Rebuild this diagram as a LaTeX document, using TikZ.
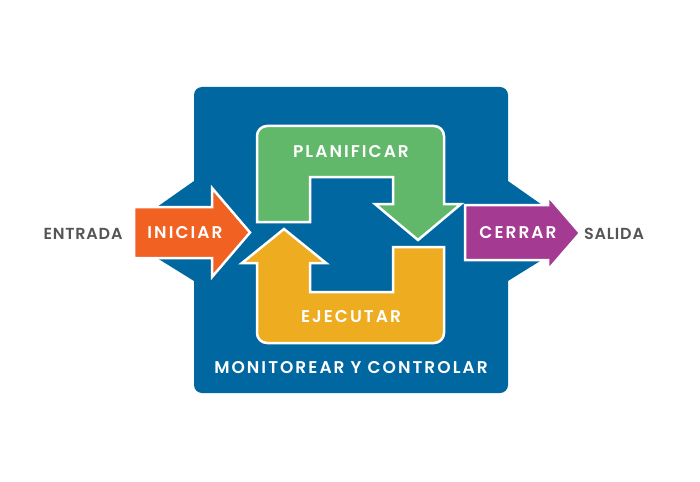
\documentclass[tikz,border=0pt]{standalone}
\usepackage{fontspec}
\setmainfont{Poppins}[BoldFont={Poppins SemiBold}]
\usepackage{tikz}
\usetikzlibrary{positioning}
\definecolor{pmblue}{RGB}{0,103,160}
\definecolor{pmgreen}{RGB}{98,184,106}
\definecolor{pmorange}{RGB}{241,97,34}
\definecolor{pmyellow}{RGB}{238,172,33}
\definecolor{pmpurple}{RGB}{165,58,146}
\definecolor{pmgray}{RGB}{85,85,85}
\tikzstyle{phase} = [draw=white, line width=2.5pt, line join=miter]
\tikzstyle{phasetext} = [text=white, inner sep=0pt,
    font=\fontsize{17}{19}\selectfont\bfseries\addfontfeatures{LetterSpace=12}]
\tikzstyle{sidetext} = [text=pmgray, inner sep=0pt,
    font=\fontsize{16}{18}\selectfont\bfseries\addfontfeatures{LetterSpace=5}]

\begin{document}
\begin{tikzpicture}[x=1pt, y=-1pt]
			\useasboundingbox (0,0) rectangle (700,481);
			% blue frame with wings
			\fill [pmblue] (194,181) -- (157,207) -- (157,258) -- (194,281) -- cycle;
			\fill [pmblue] (508,181) -- (545,207) -- (545,258) -- (508,281) -- cycle;
			\fill [pmblue, rounded corners=8pt] (194,87) rectangle (508,393);

			% iniciar / cerrar
			\path [phase, fill=pmorange] (134,207) -- (212,207) -- (212,188) -- (250,232.5)
				-- (212,277) -- (212,258) -- (134,258) -- cycle;
			\path [phase, fill=pmpurple] (465,205) -- (548,205) -- (548,196) -- (580,233)
				-- (548,270) -- (548,260) -- (465,260) -- cycle;

			% planificar / ejecutar
			\path [phase, fill=pmgreen] (257,222) -- (257,136) arc (180:270:10) -- (434,126)
				arc (270:360:10) -- (444,204) -- (461,204) -- (418,240) -- (375,204) -- (393,204)
				-- (393,177) -- (310,177) -- (310,222) -- cycle;
			\path [phase, fill=pmyellow] (444,247) -- (444,333) arc (0:90:10) -- (267,343)
				arc (90:180:10) -- (257,263) -- (242,263) -- (284,229) -- (326,263) -- (310,263)
				-- (310,292) -- (393,292) -- (393,247) -- cycle;

			% texts
			\node [phasetext] (planificar) at (351,152) {PLANIFICAR};
			\node [phasetext] (ejecutar) at (351,317) {EJECUTAR};
			\node [phasetext] (monitorear) at (351,368) {MONITOREAR Y CONTROLAR};
			\node [phasetext] (iniciar) at (185,233) {INICIAR};
			\node [phasetext] (cerrar) at (518,233) {CERRAR};
			\node [sidetext] (entrada) at (83,234) {ENTRADA};
			\node [sidetext] (salida) at (614,234) {SALIDA};
\end{tikzpicture}
\end{document}
